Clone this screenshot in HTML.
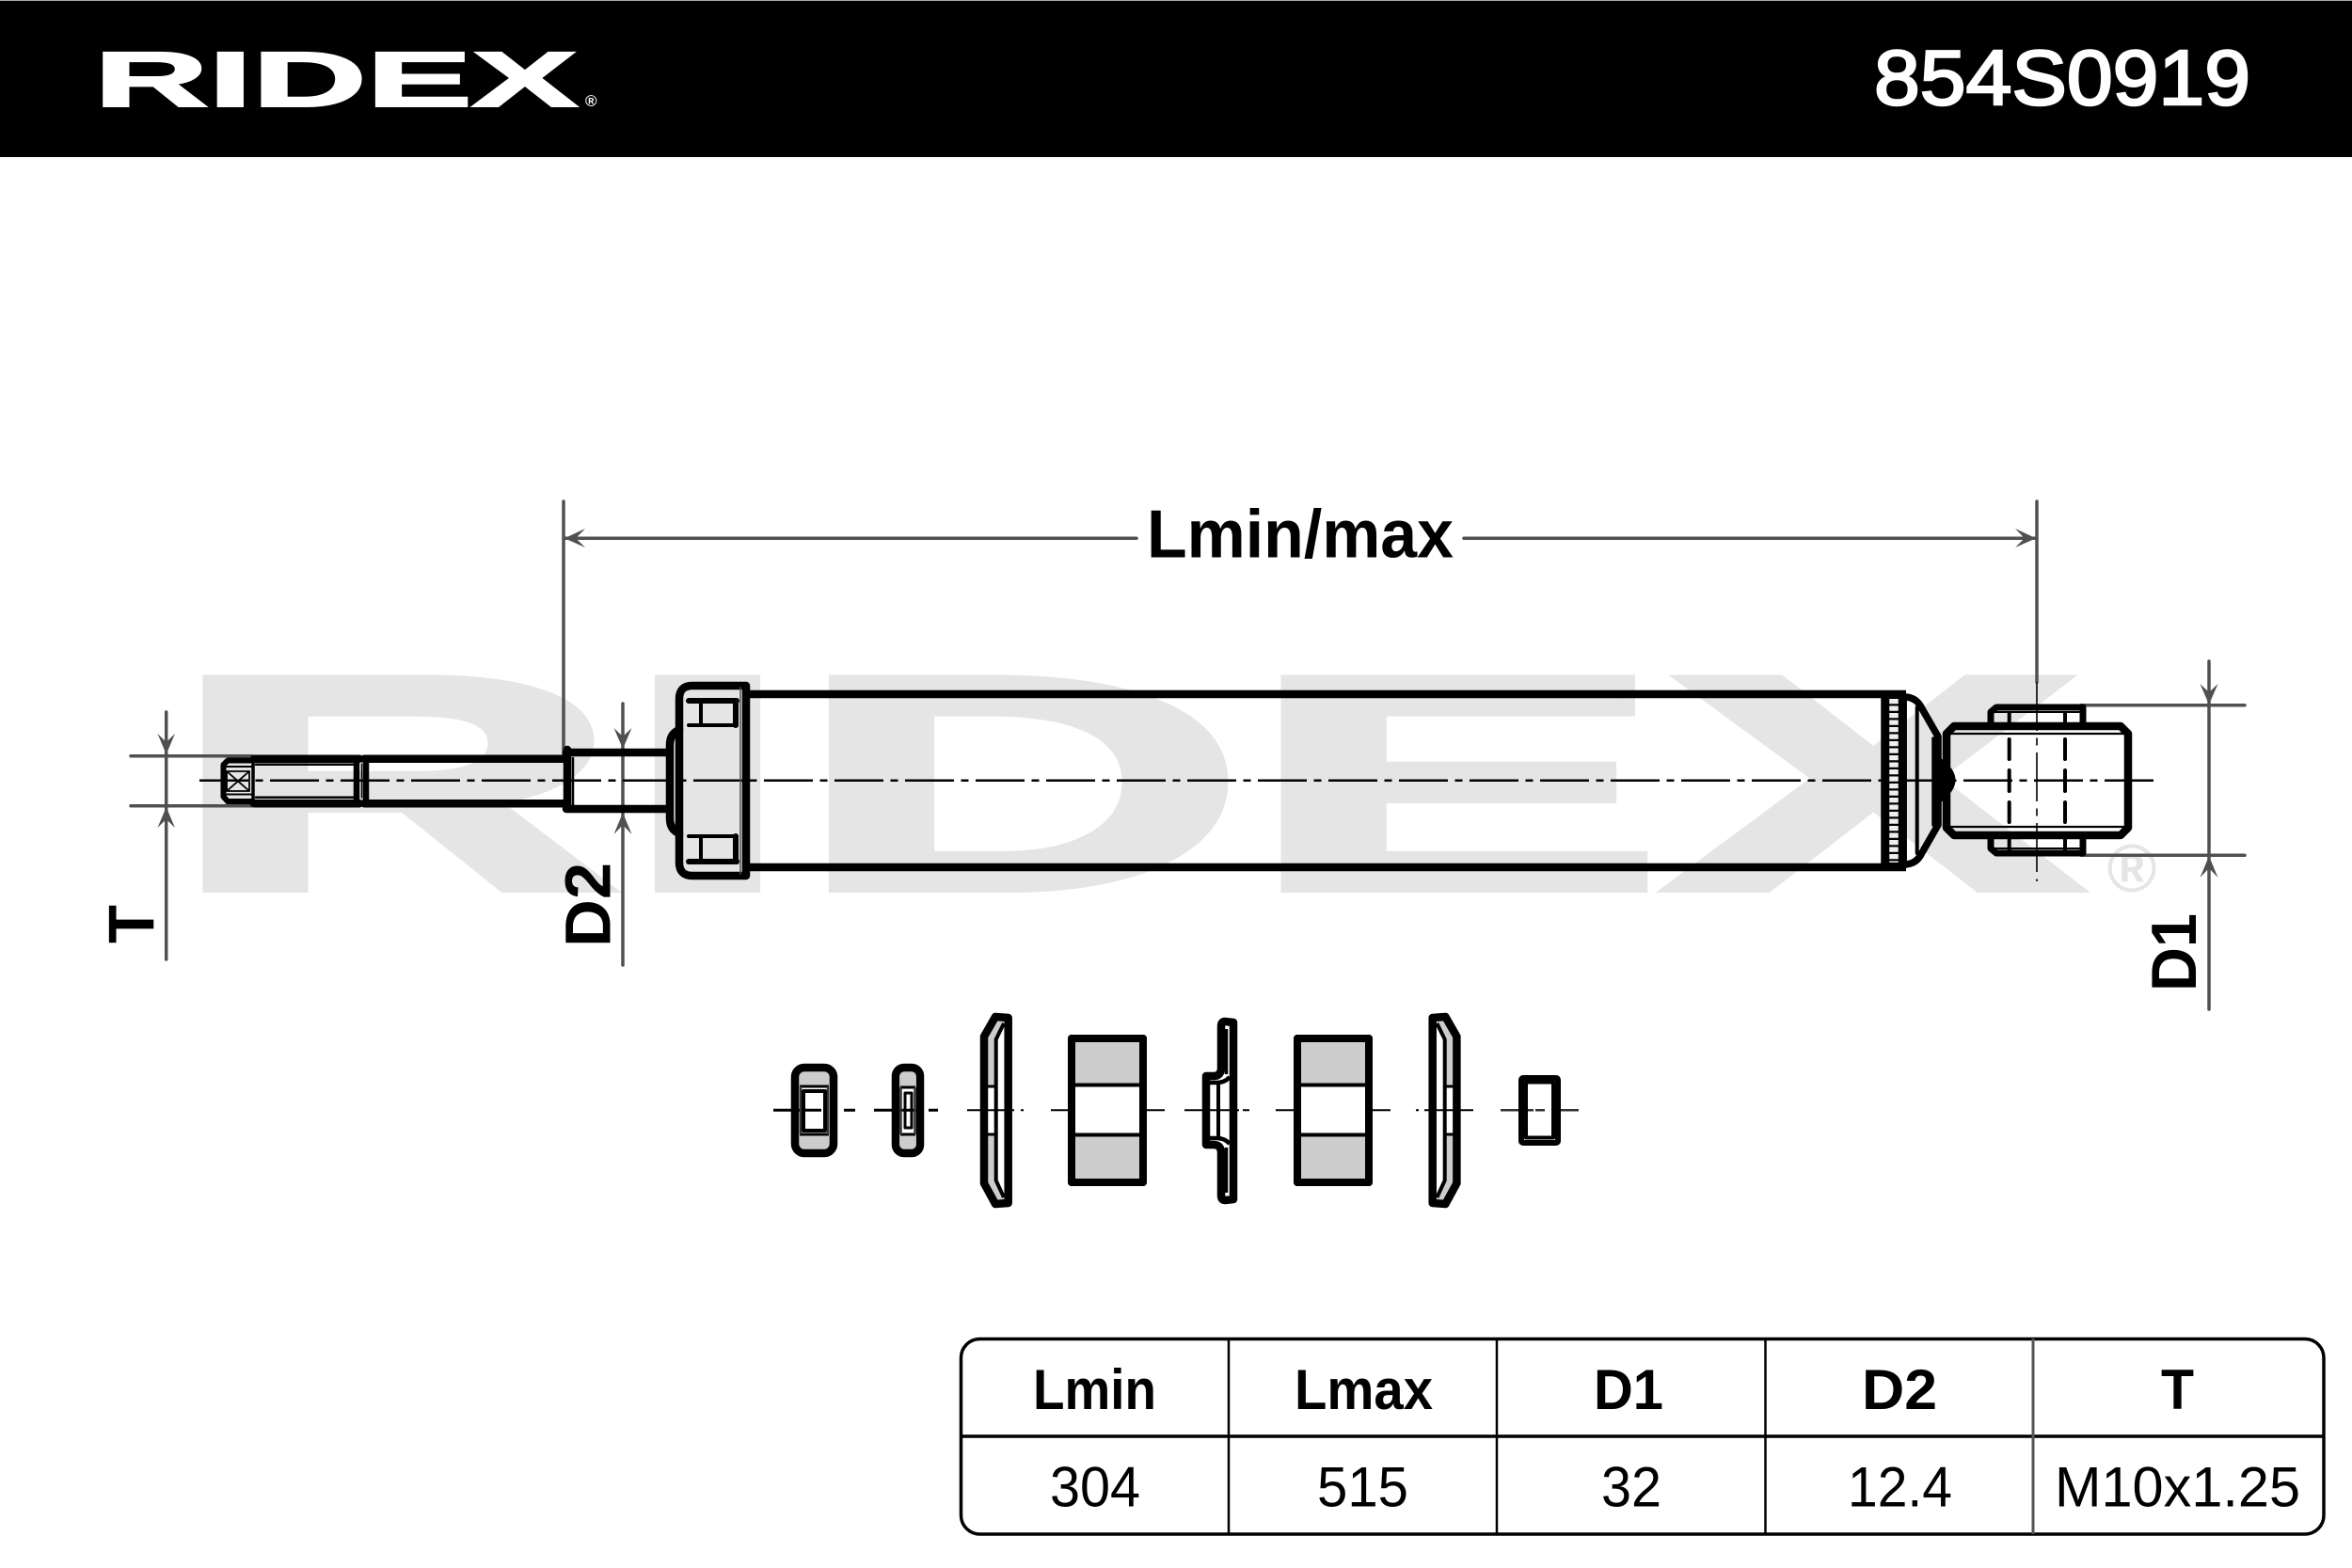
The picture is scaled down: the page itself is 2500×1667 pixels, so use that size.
<!DOCTYPE html>
<html lang="en">
<head>
<meta charset="utf-8">
<title>RIDEX 854S0919</title>
<style>
html,body{margin:0;padding:0;background:#fff;}
svg{display:block;}
text{font-family:"Liberation Sans",sans-serif;}
</style>
</head>
<body>
<svg xmlns="http://www.w3.org/2000/svg" width="2500" height="1667" viewBox="0 0 2500 1667">
<rect width="2500" height="1667" fill="#fff"/>
<!-- header -->
<rect x="0" y="0" width="2500" height="167" fill="#000"/>
<rect x="0" y="0" width="2500" height="1" fill="#aaa"/>
<text x="100" y="113" font-size="83" font-weight="bold" fill="#fff" stroke="#fff" stroke-width="2" textLength="514" lengthAdjust="spacingAndGlyphs">RIDEX</text>
<text x="622" y="113" font-size="17" font-weight="bold" fill="#fff">®</text>
<text x="1992" y="111" font-size="83" fill="#fff" stroke="#fff" stroke-width="2.5" textLength="400" lengthAdjust="spacingAndGlyphs">854S0919</text>

<!-- watermark -->
<text x="179" y="945" font-size="325" font-weight="bold" fill="#e5e5e5" stroke="#e5e5e5" stroke-width="8" textLength="2034" lengthAdjust="spacingAndGlyphs">RIDEX</text>
<text x="2266" y="948" font-size="72" font-weight="bold" fill="#e5e5e5" text-anchor="middle">®</text>

<!-- dimension lines -->
<g stroke="#505050" stroke-width="3.5" fill="none" stroke-linecap="round">
  <path d="M599,533V806M2165,533V725"/>
  <path d="M600,572.3H1208M1556,572.3H2165"/>
  <path d="M176.7,757V1020M139,803.7H268M139,856.7H268"/>
  <path d="M662,748V1026"/>
  <path d="M2348,703V1073M2212,749.7H2386M2212,909.3H2386"/>
</g>
<g fill="#505050">
  <path d="M600,572.3L622,562L612,572.3L622,582Z"/>
  <path d="M2164,572.3L2142,562L2152,572.3L2142,582Z"/>
  <path d="M176.7,802L167.5,780L176.7,789L186,780Z"/>
  <path d="M176.7,858L167.5,880L176.7,871L186,880Z"/>
  <path d="M662,796L652.5,774L662,783L671.5,774Z"/>
  <path d="M662,864L652.5,887L662,877L671.5,887Z"/>
  <path d="M2348,749L2338.5,727L2348,736L2357.5,727Z"/>
  <path d="M2348,910L2338.5,933L2348,923L2357.5,933Z"/>
</g>
<!-- dimension labels -->
<text x="1219" y="592.7" font-size="72.7" font-weight="bold" textLength="326" lengthAdjust="spacingAndGlyphs">Lmin/max</text>
<text transform="translate(163,1003) rotate(-90)" font-size="69" font-weight="bold" textLength="41" lengthAdjust="spacingAndGlyphs">T</text>
<text transform="translate(648.7,1007) rotate(-90)" font-size="69" font-weight="bold" textLength="90" lengthAdjust="spacingAndGlyphs">D2</text>
<text transform="translate(2334,1054) rotate(-90)" font-size="68" font-weight="bold" textLength="83" lengthAdjust="spacingAndGlyphs">D1</text>

<!-- centre line -->
<path d="M212,829.7H2289" stroke="#000" stroke-width="2.5" fill="none" stroke-dasharray="52 7.5 8 7.5"/>
<path d="M2165,725V937" stroke="#000" stroke-width="1.6" fill="none" stroke-dasharray="52 7.5 8 7.5"/>

<!-- rod -->
<g stroke="#000" fill="none" stroke-linejoin="round" stroke-linecap="round">
  <path d="M270,806.7H382M387,806.7H600M270,854.3H382M387,854.3H600" stroke-width="8.5"/>
  <path d="M272,812.7H379M272,847.7H379" stroke-width="2.5"/>
  <path d="M379,808V853M389,808V853" stroke-width="6.5"/>
  <path d="M384.5,812V848" stroke-width="1.5"/>
  <path d="M269,808V853" stroke-width="3.5"/>
  <path d="M269,808.5H242L237.5,813V847L242,852H269" stroke-width="6"/>
  <path d="M240,815H268M240,844.5H268" stroke-width="2"/>
  <path d="M241,820H265V841H241ZM241,820L265,841M265,820L241,841" stroke-width="1.8"/>
  <!-- collar -->
  <path d="M602,800H708M602,860H708M603,797V860" stroke-width="8.5"/>
  <path d="M609,806V856" stroke-width="2.5"/>
  <!-- cap -->
  <path d="M736,729H793V931H736Q722,931 722,917V743Q722,729 736,729Z" stroke-width="8.5"/>
  <path d="M787,731V929" stroke-width="1.5" stroke="#555"/>
  <path d="M722,776Q712,780 712,792V870Q712,882 722,886" stroke-width="8.5"/>
  <path d="M732,745H783" stroke-width="6"/>
  <path d="M732,771H783M745,745V771" stroke-width="4"/>
  <path d="M782,745V771" stroke-width="6"/>
  <path d="M732,889H783M745,889V916" stroke-width="4"/>
  <path d="M732,916H783" stroke-width="6"/>
  <path d="M782,889V916" stroke-width="6"/>
  <!-- tube -->
  <path d="M797,738H2026M797,922H2026" stroke-width="8.5" stroke-linecap="butt"/>
  <path d="M2003.5,738V922" stroke-width="8.5" stroke-linecap="butt"/>
  <path d="M2022.7,738V922" stroke-width="8.5" stroke-linecap="butt"/>
</g>
<!-- knurl band -->
<rect x="2007" y="742" width="12" height="176" fill="#000"/>
<path d="M2013,743V917" stroke="#efefef" stroke-width="9.5" fill="none" stroke-dasharray="5.2 2.3"/>
<!-- dome and eye -->
<g stroke="#000" fill="none" stroke-linejoin="round" stroke-linecap="round">
  <path d="M2026,741Q2036,742 2041,750L2060,783V877L2041,910Q2036,918 2026,919" stroke-width="7.5"/>
  <path d="M2037.7,752V907" stroke-width="4"/>
  <path d="M2055,785V877" stroke-width="3.5"/>
  <path d="M2077,772H2254L2262,780V880L2254,888H2077L2069,880V780Z" stroke-width="8.5"/>
  <path d="M2073,780H2258M2073,879H2258" stroke-width="2.2"/>
  <path d="M2116,768V757L2122,752H2214V768" stroke-width="7"/>
  <path d="M2116,892V902L2122,907H2214V892" stroke-width="7"/>
  <path d="M2120,757H2210M2120,902H2210" stroke-width="2"/>
  <path d="M2135.7,756V768M2195,756V768M2135.7,892V904M2195,892V904" stroke-width="4" stroke-linecap="butt"/>
  <path d="M2135.7,786V807M2135.7,819V841M2135.7,853V874M2195,786V807M2195,819V841M2195,853V874" stroke-width="4"/>
</g>
<path d="M2063,806Q2094,829 2063,853Z" fill="#000"/>

<!-- small parts centre segments -->
<g stroke="#000" fill="none">
  <path d="M822,1180.3H873M897,1180.3H909M929,1180.3H980M987,1180.3H997" stroke-width="3"/>
  <path d="M1028,1180.3H1078M1085,1180.3H1088M1117,1180.3H1167M1174,1180.3H1184M1192,1180.3H1238M1259,1180.3H1317M1321,1180.3H1328M1356,1180.3H1407M1414,1180.3H1423M1432,1180.3H1478M1505,1180.3H1508M1514,1180.3H1566" stroke-width="2"/>
  <path d="M1595,1180.3H1630M1632,1180.3H1642M1654,1180.3H1678" stroke-width="2.5" stroke="#333"/>
</g>

<!-- part 1: nut -->
<g stroke="#000" fill="none" stroke-linejoin="round">
  <rect x="849" y="1139" width="33" height="15" fill="#ccc" stroke="none"/>
  <rect x="849" y="1207" width="33" height="15" fill="#ccc" stroke="none"/>
  <rect x="845" y="1135" width="41" height="91" rx="10" stroke-width="8.5"/>
  <path d="M850,1155H881M850,1206H881" stroke-width="3"/>
  <path d="M851,1155V1206M880,1155V1206" stroke-width="2.5" stroke="#333"/>
  <rect x="854" y="1160" width="23" height="42" stroke-width="4"/>
</g>
<!-- part 2: small nut -->
<g stroke="#000" fill="none" stroke-linejoin="round">
  <rect x="957" y="1139" width="16" height="16" fill="#ccc" stroke="none"/>
  <rect x="957" y="1207" width="16" height="15" fill="#ccc" stroke="none"/>
  <rect x="952" y="1135" width="26" height="91" rx="9" stroke-width="8.5"/>
  <path d="M957,1156H973M957,1206H973" stroke-width="3"/>
  <path d="M957.5,1156V1206M972.5,1156V1206" stroke-width="2.5" stroke="#333"/>
  <rect x="962" y="1162" width="7" height="37" stroke-width="3"/>
</g>
<!-- part 3 & 7: washers -->
<g stroke="#000" fill="none" stroke-linejoin="round">
  <path d="M1050,1104L1060,1085L1068,1086L1058,1104V1155H1050Z" fill="#ccc" stroke="none"/>
  <path d="M1050,1256L1060,1276L1068,1275L1058,1256V1206H1050Z" fill="#ccc" stroke="none"/>
  <path d="M1071.7,1082L1058,1081L1046,1102V1258L1058,1280L1071.7,1279Z" stroke-width="8.5"/>
  <path d="M1067,1088L1058.7,1105V1255L1067,1273" stroke-width="4"/>
  <path d="M1048,1155H1058M1048,1206H1058" stroke-width="3"/>
</g>
<g transform="translate(2594.4,0) scale(-1,1)" stroke="#000" fill="none" stroke-linejoin="round">
  <path d="M1050,1104L1060,1085L1068,1086L1058,1104V1155H1050Z" fill="#ccc" stroke="none"/>
  <path d="M1050,1256L1060,1276L1068,1275L1058,1256V1206H1050Z" fill="#ccc" stroke="none"/>
  <path d="M1071.7,1082L1058,1081L1046,1102V1258L1058,1280L1071.7,1279Z" stroke-width="8.5"/>
  <path d="M1067,1088L1058.7,1105V1255L1067,1273" stroke-width="4"/>
  <path d="M1048,1155H1058M1048,1206H1058" stroke-width="3"/>
</g>
<!-- part 4 & 6: blocks -->
<g stroke="#000" stroke-linejoin="round">
  <rect x="1139" y="1104" width="76" height="153" fill="#ccc" stroke-width="8"/>
  <rect x="1143" y="1153.5" width="68" height="53" fill="#fff" stroke="none"/>
  <path d="M1143,1153.5H1211M1143,1206.5H1211" stroke-width="4"/>
  <rect x="1139" y="1104" width="76" height="153" fill="none" stroke-width="8"/>
  <rect x="1379" y="1104" width="76" height="153" fill="#ccc" stroke-width="8"/>
  <rect x="1383" y="1153.5" width="68" height="53" fill="#fff" stroke="none"/>
  <path d="M1383,1153.5H1451M1383,1206.5H1451" stroke-width="4"/>
  <rect x="1379" y="1104" width="76" height="153" fill="none" stroke-width="8"/>
</g>
<!-- part 5: stepped washer -->
<g stroke="#000" fill="none" stroke-linejoin="round">
  <path d="M1311,1087L1302,1086Q1298,1086 1298,1091V1135Q1298,1144 1290,1144H1282V1217H1290Q1298,1217 1298,1226V1271Q1298,1276 1302,1276L1311,1275Z" stroke-width="8.5"/>
  <path d="M1295,1150V1211" stroke-width="4"/>
  <path d="M1286,1151H1293Q1302,1151 1307,1145M1286,1210H1293Q1302,1210 1307,1216" stroke-width="4.5"/>
  <path d="M1303.5,1094V1142M1303.5,1220V1268" stroke="#000" stroke-width="3.5"/>
</g>
<!-- part 8: spacer -->
<g stroke="#000" fill="none" stroke-linejoin="round">
  <rect x="1617" y="1146" width="39" height="69" rx="2" stroke-width="6"/>
  <rect x="1622" y="1150.5" width="29" height="59" stroke-width="4"/>
</g>

<!-- table -->
<g stroke="#000" fill="none">
  <rect x="1021.5" y="1423.5" width="1448.5" height="207.5" rx="20" stroke-width="3.5"/>
  <path d="M1021.5,1527H2470" stroke-width="3.5"/>
  <path d="M1306,1423V1631M1591,1423V1631M1876.5,1423V1631" stroke-width="2.5"/>
  <path d="M2161,1423V1631" stroke-width="3" stroke="#555"/>
</g>
<g font-size="60" font-weight="bold" fill="#000">
  <text x="1098" y="1498" textLength="131" lengthAdjust="spacingAndGlyphs">Lmin</text>
  <text x="1376" y="1498" textLength="147" lengthAdjust="spacingAndGlyphs">Lmax</text>
  <text x="1694" y="1498" textLength="74" lengthAdjust="spacingAndGlyphs">D1</text>
  <text x="1979" y="1498" textLength="80" lengthAdjust="spacingAndGlyphs">D2</text>
  <text x="2297" y="1498" textLength="35" lengthAdjust="spacingAndGlyphs">T</text>
</g>
<g font-size="60" fill="#000">
  <text x="1116" y="1601.7" textLength="96" lengthAdjust="spacingAndGlyphs">304</text>
  <text x="1400" y="1601.7" textLength="97" lengthAdjust="spacingAndGlyphs">515</text>
  <text x="1702" y="1601.7" textLength="64" lengthAdjust="spacingAndGlyphs">32</text>
  <text x="1964" y="1601.7" textLength="111" lengthAdjust="spacingAndGlyphs">12.4</text>
  <text x="2184" y="1601.7" textLength="261" lengthAdjust="spacingAndGlyphs">M10x1.25</text>
</g>
</svg>
</body>
</html>
